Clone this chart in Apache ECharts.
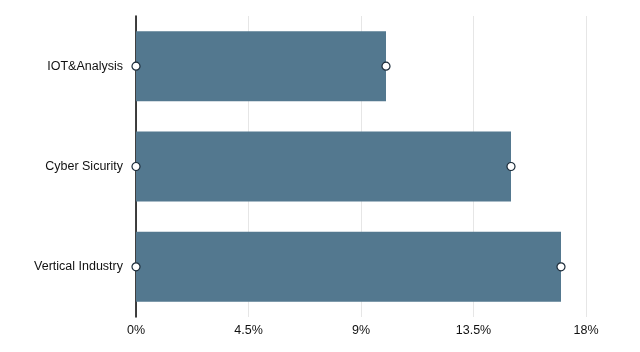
<!DOCTYPE html>
<html><head><meta charset="utf-8">
<script src="https://cdn.jsdelivr.net/npm/echarts@6/dist/echarts.min.js"></script>
<style>html,body{margin:0;padding:0;background:#fff}#c{width:640px;height:352px}</style>
</head><body><div id="c"></div>
<script>
const categories = ['Vertical Industry', 'Cyber Sicurity', 'IOT&Analysis'];
const values = [17, 15, 10];
const xTicks = [0, 4.5, 9, 13.5, 18];

const chart = echarts.init(document.getElementById('c'));
chart.setOption({
  animation: false,
  grid: {left: 136, right: 54, top: 16, bottom: 35},
  textStyle: {fontFamily: 'Liberation Sans, Arial, sans-serif'},
  xAxis: {
    type: 'value', min: xTicks[0], max: xTicks[xTicks.length - 1], interval: 4.5,
    axisLine: {show: false}, axisTick: {show: false},
    splitLine: {show: true, lineStyle: {color: '#e6e6e6', width: 1}},
    axisLabel: {color: '#111', fontSize: 12.5, margin: 7, formatter: v => v + '%'}
  },
  yAxis: {
    type: 'category', data: categories,
    axisLine: {show: true, lineStyle: {color: '#000', width: 1.5}},
    axisTick: {show: false},
    axisLabel: {color: '#111', fontSize: 12.5, margin: 13}
  },
  series: [
    {type: 'bar', data: values, barWidth: 70, itemStyle: {color: '#53788f'}},
    {type: 'scatter', data: values.map((v, i) => [0, i]), symbolSize: 8, z: 5,
     itemStyle: {color: '#fff', borderColor: '#1a2a38', borderWidth: 1.2, opacity: 1}},
    {type: 'scatter', data: values.map((v, i) => [v, i]), symbolSize: 8, z: 5,
     itemStyle: {color: '#fff', borderColor: '#1a2a38', borderWidth: 1.2, opacity: 1}}
  ]
});
</script></body></html>
